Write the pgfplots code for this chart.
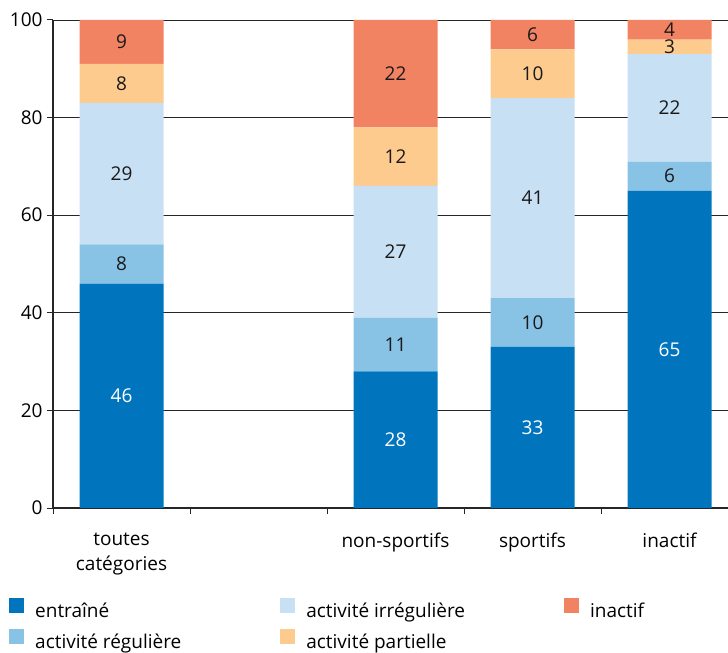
\documentclass[border=0pt]{standalone}
\usepackage{pgfplots}
\pgfplotsset{compat=1.18}
\usepackage{fontspec}
\setmainfont{Open Sans}
\definecolor{cE}{RGB}{0,117,189}
\definecolor{cR}{RGB}{136,195,230}
\definecolor{cI}{RGB}{200,224,244}
\definecolor{cP}{RGB}{253,203,142}
\definecolor{cN}{RGB}{242,131,98}
\newcommand{\fs}{\fontsize{19bp}{25bp}\selectfont}
\begin{document}
\begin{tikzpicture}
\path[use as bounding box] (0,0) rectangle (728bp,653bp);
\begin{axis}[
  at={(53bp,145bp)}, anchor=south west,
  scale only axis, width=675bp, height=488bp,
  xmin=-0.5, xmax=4.427, ymin=0, ymax=100,
  ybar stacked, bar width=84bp,
  axis x line*=bottom, axis y line*=left,
  axis line style={black!85, line width=1.1bp},
  ytick={0,20,...,100},
  ymajorgrids, grid style={black!85, line width=0.8bp},
  xtick={0,2,3,4},
  xticklabels={{toutes\\catégories},{non-sportifs},{sportifs},{inactif}},
  minor xtick={-0.5,0.5,1.5,2.5,3.5},
  tick align=outside, major tick length=6bp, minor tick length=6bp,
  major x tick style={draw=none},
  tick style={black!85, line width=1bp},
  ticklabel style={font=\fs},
  /pgf/number format/assume math mode=true,
  xticklabel style={align=center, yshift=-15bp},
  yticklabel style={xshift=-1bp},
  legend style={at={(-0.0652,-0.185)}, anchor=north west, draw=none, fill=none,
    inner sep=0pt, font=\fs,
    nodes={inner sep=0pt, text height=14bp, text depth=4bp},
    row sep=7bp,
    /tikz/every odd column/.append style={column sep=11bp},
    /tikz/every even column/.append style={column sep=99bp}},
  legend columns=2, transpose legend, legend cell align=left,
  legend image code/.code={\fill (0bp,-0.5bp) rectangle (15bp,14.5bp);},
]
\addplot[fill=cE, draw=none] coordinates {(0,46) (2,28) (3,33) (4,65)};
\addplot[fill=cR, draw=none] coordinates {(0,8) (2,11) (3,10) (4,6)};
\addplot[fill=cI, draw=none] coordinates {(0,29) (2,27) (3,41) (4,22)};
\addplot[fill=cP, draw=none] coordinates {(0,8) (2,12) (3,10) (4,3)};
\addplot[fill=cN, draw=none] coordinates {(0,9) (2,22) (3,6) (4,4)};
\legend{entraîné, activité régulière, activité irrégulière, activité partielle, inactif}
\end{axis}
\begin{axis}[
  at={(53bp,145bp)}, anchor=south west,
  scale only axis, width=675bp, height=488bp,
  xmin=-0.5, xmax=4.427, ymin=0, ymax=100,
  hide axis, clip=false,
]
\addplot[only marks, mark=none, nodes near coords, point meta=explicit symbolic,
  every node near coord/.style={anchor=center, font=\fs, text=white}]
  coordinates {(0,23)[46] (2,14)[28] (3,16.5)[33] (4,32.5)[65]};
\addplot[only marks, mark=none, nodes near coords, point meta=explicit symbolic,
  every node near coord/.style={anchor=center, font=\fs, text=black!90}]
  coordinates {(0,50)[8] (2,33.5)[11] (3,38)[10] (4,68)[6]
               (0,68.5)[29] (2,52.5)[27] (3,63.5)[41] (4,82)[22]
               (0,87)[8] (2,72)[12] (3,89)[10] (4,94.5)[3]
               (0,95.5)[9] (2,89)[22] (3,97)[6] (4,98)[4]};
\end{axis}
\end{tikzpicture}
\end{document}
